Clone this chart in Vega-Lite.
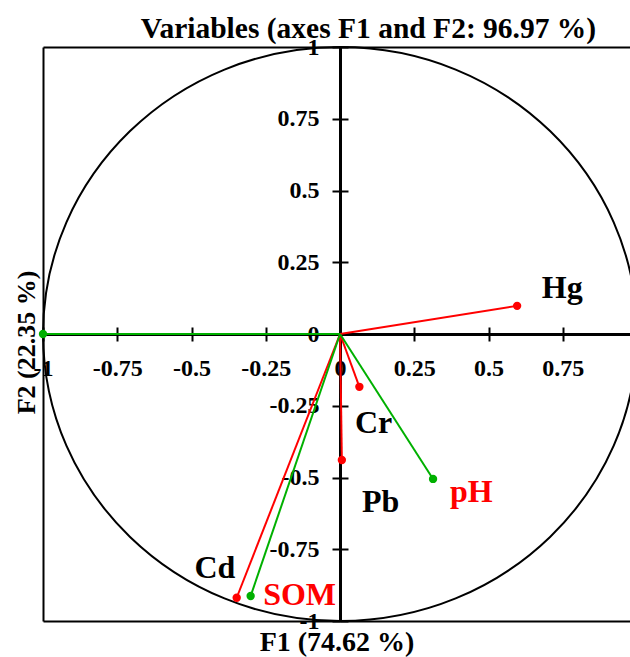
{
  "$schema": "https://vega.github.io/schema/vega-lite/v6.json",
  "width": 587,
  "height": 574,
  "autosize": {"type": "none"},
  "padding": {"left": 43, "top": 47, "right": 0, "bottom": 36},
  "background": "white",
  "config": {"view": {"stroke": null}},
  "title": {
    "text": "Variables (axes F1 and F2: 96.97 %)",
    "font": "Liberation Serif", "fontSize": 29.5, "fontWeight": "bold", "color": "black",
    "anchor": "middle", "frame": "group", "baseline": "alphabetic", "offset": 9, "dx": 32, "dy": 41
  },
  "datasets": {
    "center": [{"F1": 0, "F2": 0}],
    "vars": [
      {"name": "Hg", "F1": 0.596, "F2": 0.098, "kind": "active"},
      {"name": "Cr", "F1": 0.065, "F2": -0.184, "kind": "active"},
      {"name": "Pb", "F1": 0.006, "F2": -0.439, "kind": "active"},
      {"name": "Cd", "F1": -0.348, "F2": -0.919, "kind": "active"},
      {"name": "pH", "F1": 0.313, "F2": -0.505, "kind": "supplementary"},
      {"name": "SOM", "F1": -0.301, "F2": -0.913, "kind": "supplementary"},
      {"name": "", "F1": -1.0, "F2": 0.0, "kind": "supplementary"}
    ],
    "labels": [
      {"name": "Hg", "lx": 0.679, "ly": 0.125, "kind": "active"},
      {"name": "Cr", "lx": 0.05, "ly": -0.345, "kind": "active"},
      {"name": "Pb", "lx": 0.074, "ly": -0.62, "kind": "active"},
      {"name": "Cd", "lx": -0.49, "ly": -0.85, "kind": "active"},
      {"name": "pH", "lx": 0.37, "ly": -0.584, "kind": "supplementary"},
      {"name": "SOM", "lx": -0.259, "ly": -0.944, "kind": "supplementary"}
    ]
  },
  "resolve": {"axis": {"x": "independent", "y": "independent"}, "scale": {"color": "independent"}},
  "layer": [
    {
      "data": {"name": "center"},
      "mark": {
        "type": "point",
        "shape": "M -1 0 A 1 0.9663 0 1 0 1 0 A 1 0.9663 0 1 0 -1 0 Z",
        "size": 352836, "filled": false, "stroke": "black", "strokeWidth": 2, "opacity": 1
      },
      "encoding": {
        "x": {"field": "F1", "type": "quantitative",
          "scale": {"domain": [-1, 0.976], "nice": false, "zero": false},
          "axis": {"orient": "bottom", "offset": 0, "grid": false, "ticks": false, "labels": false,
            "domainColor": "black", "domainWidth": 2,
            "title": "F1 (74.62 %)", "titleFont": "Liberation Serif", "titleFontSize": 28,
            "titleFontWeight": "bold", "titleColor": "black", "titlePadding": 7}},
        "y": {"field": "F2", "type": "quantitative",
          "scale": {"domain": [-1, 1], "nice": false, "zero": false},
          "axis": {"orient": "left", "offset": 0, "grid": false, "ticks": false, "labels": false,
            "domainColor": "black", "domainWidth": 2,
            "title": "F2 (22.35 %)", "titleFont": "Liberation Serif", "titleFontSize": 26,
            "titleFontWeight": "bold", "titleColor": "black", "titlePadding": 4, "titleY": 295}}
      }
    },
    {
      "data": {"name": "vars"},
      "mark": {"type": "rule", "strokeWidth": 2},
      "encoding": {
        "x": {"field": "F1", "type": "quantitative",
          "axis": {"orient": "bottom", "offset": -287, "grid": false,
            "values": [-1, -0.75, -0.5, -0.25, 0, 0.25, 0.5, 0.75],
            "domainColor": "black", "domainWidth": 3, "tickColor": "black", "tickWidth": 2, "tickSize": 7,
            "labelPadding": 15, "labelFont": "Liberation Serif", "labelFontSize": 24, "labelFontWeight": "bold",
            "labelColor": "black", "labelExpr": "toString(datum.value)", "labelOverlap": false,
            "labelBound": false, "labelFlush": false, "title": null}},
        "y": {"field": "F2", "type": "quantitative",
          "axis": {"orient": "left", "offset": -297, "grid": false,
            "values": [-1, -0.75, -0.5, -0.25, 0, 0.25, 0.5, 0.75, 1],
            "domainColor": "black", "domainWidth": 3, "tickColor": "black", "tickWidth": 2, "tickSize": 8,
            "labelPadding": 13, "labelFont": "Liberation Serif", "labelFontSize": 24, "labelFontWeight": "bold",
            "labelColor": "black", "labelExpr": "toString(datum.value)", "labelOverlap": false,
            "labelBound": false, "labelFlush": false, "title": null}},
        "x2": {"datum": 0},
        "y2": {"datum": 0},
        "color": {"field": "kind", "type": "nominal",
          "scale": {"domain": ["active", "supplementary"], "range": ["#ff0000", "#00b000"]}, "legend": null}
      }
    },
    {
      "data": {"name": "vars"},
      "mark": {"type": "point", "filled": true, "size": 70, "opacity": 1},
      "encoding": {
        "x": {"field": "F1", "type": "quantitative",
          "axis": {"orient": "top", "offset": -287, "grid": false, "domain": false, "labels": false,
            "values": [-1, -0.75, -0.5, -0.25, 0, 0.25, 0.5, 0.75],
            "tickColor": "black", "tickWidth": 2, "tickSize": 7, "title": null}},
        "y": {"field": "F2", "type": "quantitative",
          "axis": {"orient": "right", "offset": -290, "grid": false, "domain": false, "labels": false,
            "values": [-1, -0.75, -0.5, -0.25, 0, 0.25, 0.5, 0.75, 1],
            "tickColor": "black", "tickWidth": 2, "tickSize": 8, "title": null}},
        "color": {"field": "kind", "type": "nominal",
          "scale": {"domain": ["active", "supplementary"], "range": ["#ff0000", "#00b000"]}, "legend": null}
      }
    },
    {
      "data": {"name": "labels"},
      "mark": {"type": "text", "align": "left", "baseline": "alphabetic",
        "font": "Liberation Serif", "fontSize": 32, "fontWeight": "bold"},
      "encoding": {
        "x": {"field": "lx", "type": "quantitative",
          "axis": {"orient": "top", "offset": 0, "grid": false, "ticks": false, "labels": false,
            "domainColor": "black", "domainWidth": 2, "title": null}},
        "y": {"field": "ly", "type": "quantitative", "axis": null},
        "text": {"field": "name"},
        "color": {"field": "kind", "type": "nominal",
          "scale": {"domain": ["active", "supplementary"], "range": ["#000000", "#ff0000"]}, "legend": null}
      }
    }
  ]
}
